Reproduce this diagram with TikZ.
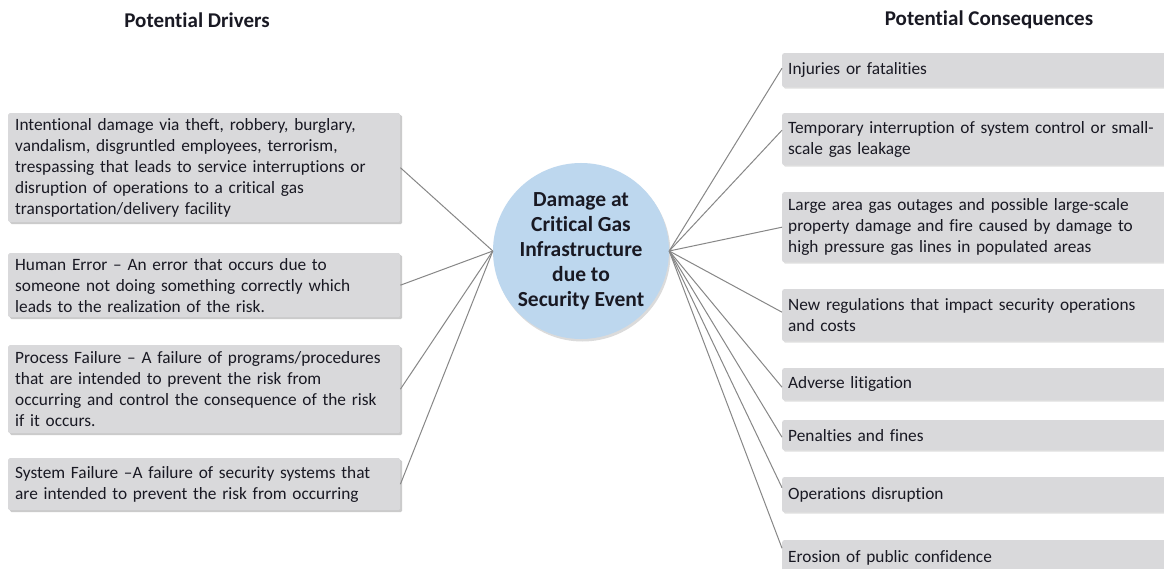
\documentclass[tikz,border=0pt]{standalone}
\usepackage{fontspec}
\setmainfont{Carlito}[Ligatures={NoCommon,TeX}]
\usetikzlibrary{shadows}
\definecolor{boxgray}{RGB}{217,217,219}
\definecolor{circblue}{RGB}{189,215,238}
\definecolor{linegray}{RGB}{135,135,135}
\definecolor{txt}{RGB}{25,25,35}
\tikzset{
  drvbox/.style={fill=boxgray, rounded corners=1.5pt, anchor=north west,
    minimum width=392pt, text width=378pt, inner xsep=7pt, inner ysep=0pt,
    align=left, text=txt, font=\fontsize{17.3}{21}\selectfont,
    drop shadow={shadow xshift=2pt, shadow yshift=-2pt, fill=black!45, opacity=0.45}},
  consbox/.style={fill=boxgray, rounded corners=2pt, anchor=north west,
    minimum width=400pt, text width=388pt, inner xsep=6pt, inner ysep=0pt,
    align=left, text=txt, font=\fontsize{17.3}{21}\selectfont,
    drop shadow={shadow xshift=1.5pt, shadow yshift=-1.5pt, fill=black!35, opacity=0.35}},
  hub/.style={circle, fill=circblue, minimum size=176pt, inner sep=0pt, align=center,
    text=txt, font=\bfseries\fontsize{21.5}{25}\selectfont,
    drop shadow={shadow xshift=1.5pt, shadow yshift=-2.5pt, fill=black!40, opacity=0.35}},
  header/.style={font=\bfseries\fontsize{21}{24}\selectfont, text=txt},
  link/.style={draw=linegray, line width=1pt}
}
\begin{document}
\begin{tikzpicture}[x=1pt,y=-1pt]
\useasboundingbox (0,0) rectangle (1164,569);
\fill[white] (0,0) rectangle (1164,569);

\node[header] (hd) at (197,20) {Potential Drivers};
\node[header] (hc) at (989,20) {Potential Consequences};

% drivers
\node[drvbox, minimum height=109pt] (L1) at (8,113) {Intentional damage via theft, robbery, burglary,\\vandalism, disgruntled employees, terrorism,\\trespassing that leads to service interruptions or\\disruption of operations to a critical gas\\transportation/delivery facility};
\node[drvbox, minimum height=64pt] (L2) at (8,253) {Human Error -- An error that occurs due to\\someone not doing something correctly which\\leads to the realization of the risk.};
\node[drvbox, minimum height=88pt] (L3) at (8,345) {Process Failure -- A failure of programs/procedures\\that are intended to prevent the risk from\\occurring and control the consequence of the risk\\if it occurs.};
\node[drvbox, minimum height=52pt] (L4) at (8,458) {System Failure --A failure of security systems that\\are intended to prevent the risk from occurring};

% hub
\node[hub] (C) at (581,251) {Damage at\\Critical Gas\\Infrastructure\\due to\\Security Event};

% consequences
\node[consbox, minimum height=34pt] (R1) at (782,53) {Injuries or fatalities};
\node[consbox, minimum height=52pt] (R2) at (782,113) {Temporary interruption of system control or small-\\scale gas leakage};
\node[consbox, minimum height=70pt] (R3) at (782,192) {Large area gas outages and possible large-scale\\property damage and fire caused by damage to\\high pressure gas lines in populated areas};
\node[consbox, minimum height=52pt] (R4) at (782,289) {New regulations that impact security operations\\and costs};
\node[consbox, minimum height=32pt] (R5) at (782,368) {Adverse litigation};
\node[consbox, minimum height=30pt] (R6) at (782,420) {Penalties and fines};
\node[consbox, minimum height=35pt] (R7) at (782,477) {Operations disruption};
\node[consbox, minimum height=36pt] (R8) at (782,540) {Erosion of public confidence};

% connectors
\foreach \b in {L1,L2,L3,L4} \draw[link] (\b.east) -- (C.west);
\draw[link] (C.east) -- ([yshift=2pt]R1.west);
\draw[link] (C.east) -- ([yshift=9pt]R2.west);
\draw[link] (C.east) -- (R3.west);
\draw[link] (C.east) -- ([yshift=3pt]R4.west);
\draw[link] (C.east) -- ([yshift=-3pt]R5.west);
\draw[link] (C.east) -- ([yshift=-2pt]R6.west);
\draw[link] (C.east) -- ([yshift=7pt]R7.west);
\draw[link] (C.east) -- ([yshift=10pt]R8.west);
\end{tikzpicture}
\end{document}
